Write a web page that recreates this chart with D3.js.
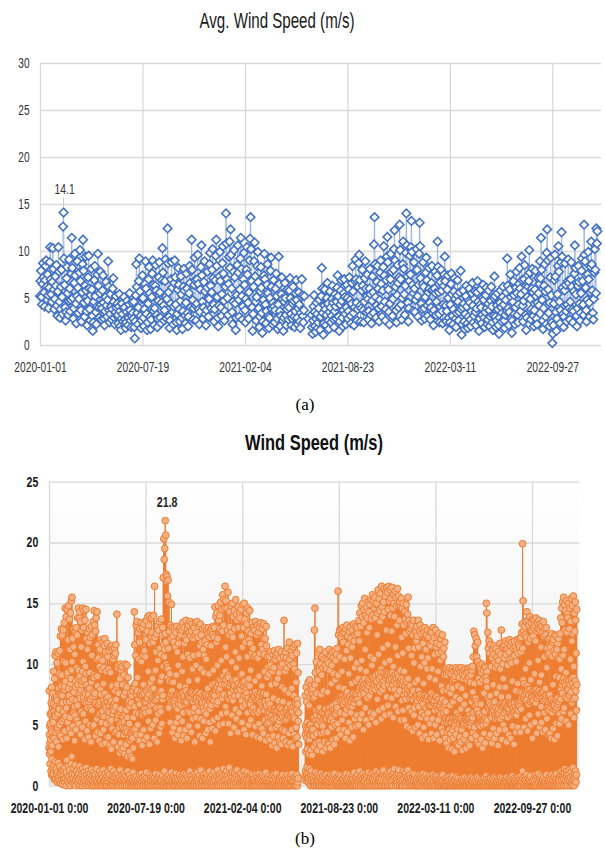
<!DOCTYPE html>
<html>
<head>
<meta charset="utf-8">
<script src="https://cdn.jsdelivr.net/npm/d3@7"></script>
<style>
  body { margin: 0; background: #fff; }
  svg { display: block; }
</style>
</head>
<body>
<svg id="chart" width="605" height="852"></svg>
<script>
// Daily average wind speed (m/s), one value per day from 2020-01-01 (null = no record)
const avg2020 = [
  5.2,6.8,7.9,5.1,4.3,6.5,8.7,7.2,5.6,4.1,6.9,8.4,9.0,6.2,4.8,7.5,5.3,3.9,6.1,8.8,10.4,7.0,5.4,4.6,6.7,10.3,8.1,5.9,3.8,4.9,7.3,
  6.3,8.5,4.2,3.1,5.7,10.4,7.8,4.6,2.9,3.8,6.2,8.0,5.1,3.3,12.6,14.1,9.2,6.4,4.0,2.6,3.5,7.1,8.3,5.5,3.2,4.7,9.1,6.0,3.6,
  4.8,7.6,11.4,8.2,5.0,2.8,3.9,6.6,9.7,7.4,4.4,2.3,5.2,8.9,6.1,3.4,4.9,7.7,10.1,6.8,3.7,2.5,5.6,8.6,11.2,7.9,4.5,3.0,6.3,9.4,5.8,
  3.6,2.1,4.7,7.2,9.5,6.0,3.8,2.6,5.3,8.1,5.9,3.1,1.5,2.4,4.6,6.9,8.4,5.2,3.5,2.2,4.1,7.5,9.7,6.3,4.0,2.9,5.5,7.8,4.3,2.7,
  3.9,5.8,7.4,4.5,2.8,2.1,3.6,5.1,6.7,4.2,3.0,4.8,8.9,6.2,3.7,2.4,3.3,5.4,4.1,2.7,3.8,6.0,7.1,4.6,2.9,2.2,3.5,5.2,4.0,3.1,4.4,
  3.2,2.3,4.1,5.4,3.6,2.0,1.6,2.8,4.4,3.3,2.5,3.9,5.1,4.0,2.7,1.8,2.4,3.5,4.7,3.0,2.1,2.9,4.3,5.5,3.7,2.6,1.9,3.1,4.5,3.4,
  2.8,4.6,1.9,0.7,2.5,5.3,8.6,6.2,3.4,2.2,4.0,6.8,9.2,5.7,3.1,1.8,2.6,4.9,7.4,5.0,2.9,2.0,3.8,6.5,8.9,6.0,3.3,1.6,2.4,4.4,7.0,
  8.3,5.5,3.0,1.7,2.7,5.1,7.6,9.0,6.4,3.6,2.1,3.9,6.3,8.5,5.8,3.2,1.9,2.8,4.7,7.2,8.8,5.6,2.9,2.3,4.5,6.9,10.3,7.7,4.2,2.6,3.7,
  6.8,9.1,5.2,2.8,4.9,12.4,8.7,5.6,3.0,1.8,2.6,4.4,7.0,8.8,6.1,3.5,2.2,4.1,6.6,9.0,7.2,4.3,2.4,1.6,3.3,5.9,8.2,6.4,3.8,2.5,
  4.7,7.3,5.4,2.9,1.7,3.6,6.2,8.1,5.8,3.1,2.3,4.5,7.6,6.0,3.4,2.0,3.0,5.5,8.4,6.6,4.0,7.9,11.2,8.0,4.8,2.7,3.9,6.4,9.3,6.9,4.2,
  2.6,4.4,7.0,9.6,6.5,3.8,2.2,3.5,5.9,8.3,10.6,7.4,4.6,2.8,4.0,6.7,8.9,5.7,3.3,2.1,3.7,6.1,7.8,5.0,3.0,4.9,8.6,9.8,6.3,3.9,
  5.6,8.0,10.2,7.1,4.3,2.5,3.8,6.9,9.5,11.2,8.4,5.1,2.9,2.0,4.2,7.3,9.9,6.8,4.0,3.1,5.4,8.7,10.5,7.6,4.7,2.6,3.6,6.2,14.0,10.8,7.0
];
const avg2021 = [
  5.0,3.2,6.5,9.4,11.0,8.2,12.3,9.6,6.0,3.5,2.2,4.6,7.8,10.1,7.2,4.4,1.6,2.9,5.3,8.5,10.6,7.7,4.8,3.0,5.9,9.2,11.4,8.1,5.2,2.7,4.1,
  7.0,9.8,6.4,3.7,2.4,4.9,8.0,10.4,7.5,4.5,2.8,5.6,9.0,11.3,13.6,10.2,6.8,4.0,1.5,3.3,6.2,8.9,10.9,7.3,4.6,2.6,5.1,8.4,
  9.9,6.7,3.9,1.9,3.0,5.7,8.3,6.1,3.4,1.3,2.5,4.8,7.4,9.7,7.0,4.3,2.3,3.6,6.4,8.6,5.5,3.1,1.8,2.9,5.0,7.9,9.3,6.2,3.8,2.2,4.5,
  6.9,4.1,2.4,3.7,6.0,7.6,5.2,2.8,1.7,4.3,9.4,6.5,3.6,2.0,3.1,5.4,7.2,4.9,2.6,1.5,2.9,4.6,6.6,5.0,3.2,2.1,3.8,5.9,4.2,2.7,
  4.0,5.8,7.1,5.0,3.3,2.1,2.8,4.4,6.2,4.7,3.0,1.9,3.6,5.5,6.9,4.8,2.9,2.2,3.9,5.6,4.3,2.5,1.8,3.4,5.1,7.0,5.3,3.1,2.4,3.7,5.2,
  null,null,null,null,null,null,null,null,null,null,null,null,null,3.2,1.9,1.2,2.6,4.1,5.3,3.5,2.0,1.4,2.8,4.5,3.3,1.8,2.4,3.9,4.8,2.9,
  1.6,3.0,5.2,8.2,6.0,3.4,1.1,2.3,4.2,5.9,3.8,2.1,3.2,5.0,6.6,4.4,2.6,1.7,3.5,5.7,4.0,2.4,3.1,4.9,6.3,4.5,2.7,1.9,3.6,5.4,4.1,
  2.8,4.6,6.1,7.4,5.2,3.0,1.5,2.5,4.3,5.8,6.9,4.7,2.9,2.0,3.7,5.5,7.0,5.1,3.3,2.2,4.0,6.4,5.0,2.8,3.6,5.9,7.2,4.8,3.1,2.3,4.4,
  6.6,8.4,5.7,3.4,2.1,4.0,6.8,9.1,7.0,4.5,2.6,3.8,6.2,8.7,9.6,6.9,4.2,2.5,3.9,5.8,8.0,6.3,3.7,2.4,4.6,7.1,8.9,6.0,3.5,5.2,
  7.5,4.9,2.7,3.6,6.0,8.1,5.4,3.2,2.3,4.7,7.3,5.6,3.4,10.7,13.6,8.6,5.1,2.9,4.2,6.7,8.4,6.0,3.9,2.5,4.8,7.7,9.0,6.5,4.1,3.0,5.8,
  8.3,10.5,7.4,4.6,2.6,3.8,6.9,9.4,11.5,8.8,5.9,3.5,2.2,4.4,7.0,9.7,7.8,5.0,3.1,4.9,8.0,10.2,12.2,9.0,6.2,3.7,2.4,5.3,8.5,6.6,
  4.0,7.2,12.8,10.1,7.0,4.3,2.7,5.0,8.6,11.0,8.1,5.4,3.2,6.3,9.8,14.0,10.6,7.3,4.5,2.5,3.9,6.8,9.5,7.5,10.4,13.2,9.9,6.4,3.6,5.5,8.8
];
const avg2022 = [
  6.0,3.5,4.8,7.9,10.2,8.0,5.2,3.0,6.4,9.7,13.0,10.5,7.1,4.4,2.6,3.8,6.5,8.8,6.2,3.9,2.8,5.1,7.7,9.3,6.9,4.2,3.1,5.6,8.2,6.0,4.5,
  2.7,4.0,6.6,8.4,5.9,3.4,2.1,3.7,6.0,7.8,5.5,3.2,4.6,7.4,11.0,8.3,5.6,3.3,2.4,4.1,6.7,8.0,5.8,3.6,2.3,4.3,6.3,7.5,
  9.4,6.8,4.2,2.5,3.6,5.9,7.4,5.0,2.9,1.6,2.4,4.3,6.5,7.6,5.4,3.1,2.2,3.8,5.7,7.1,4.9,2.8,1.9,3.4,5.3,6.9,4.6,2.6,3.5,5.6,4.0,
  7.9,3.8,1.1,2.2,4.0,5.8,4.4,2.5,1.7,3.3,5.2,6.3,4.1,2.3,1.8,3.0,4.7,6.0,4.5,2.7,2.0,3.6,5.5,6.6,4.2,2.4,3.1,4.9,5.7,3.5,
  2.1,3.9,5.6,6.8,4.6,2.6,1.5,2.8,4.3,5.9,4.0,2.3,3.2,5.0,6.4,4.8,2.9,1.9,3.5,5.3,6.1,3.9,2.2,2.7,4.4,5.8,3.7,2.0,3.0,4.7,6.2,
  4.1,2.4,1.6,3.1,5.0,7.3,5.2,3.0,1.9,2.6,4.2,5.5,3.8,2.1,1.2,2.9,4.5,5.8,4.0,2.5,3.4,5.1,6.2,4.3,2.6,1.8,3.2,4.8,5.6,3.6,
  9.2,6.3,3.9,2.1,3.5,5.9,7.5,5.1,2.8,1.3,2.6,4.6,6.8,5.3,3.3,2.2,4.0,6.1,7.8,5.5,3.2,2.4,4.3,6.5,8.2,6.0,3.6,5.4,9.4,6.9,4.2,
  2.5,4.7,7.0,8.5,5.8,3.2,1.6,2.9,5.1,7.4,6.2,6.8,10.1,7.7,4.9,2.7,3.8,6.0,8.1,5.6,3.1,2.0,3.7,5.9,7.9,5.2,2.8,2.2,4.5,7.1,5.5,
  4.2,6.5,8.9,7.1,11.4,8.0,4.8,2.6,1.7,3.9,6.3,8.6,5.7,3.0,2.2,9.8,12.3,9.0,5.9,3.4,2.0,4.5,7.2,9.3,5.3,2.4,0.2,1.2,2.1,4.4,
  6.9,9.6,7.3,3.5,1.5,2.8,5.4,8.4,10.5,7.8,4.6,2.3,3.7,8.8,12.0,9.4,6.1,3.3,1.9,3.0,5.8,8.7,6.4,3.6,2.5,4.3,6.8,9.1,6.6,3.9,2.7,
  4.6,7.0,8.8,6.2,3.8,2.4,3.6,5.7,7.6,10.6,8.2,5.4,3.1,2.0,3.9,6.3,8.4,6.7,4.4,2.6,3.4,5.5,7.9,9.2,6.8,4.3,3.2,12.8,9.6,8.9,
  6.1,3.7,2.5,4.8,7.5,9.9,7.0,4.5,3.0,5.6,8.3,11.0,8.6,5.8,3.4,2.7,4.9,7.7,10.2,8.0,5.5,12.4,10.8,12.1
];

// Highest hourly wind speed of each day (m/s), from 2020-01-01
const dailyPeak2020 = [
  7.8,4.9,5.9,3.8,6.8,8.1,4.4,7.6,5.2,9.4,6.1,8.8,10.7,5.7,11.0,7.3,10.1,4.6,10.9,8.0,6.4,9.2,11.1,12.3,7.5,12.9,9.1,12.4,6.8,12.8,10.2,
  13.4,8.2,14.6,10.1,13.9,6.9,14.5,9.3,12.0,14.8,7.4,13.7,11.2,14.2,8.8,15.2,15.5,12.1,7.9,11.4,12.9,6.5,10.8,12.7,8.6,13.0,9.7,12.4,13.8,
  14.6,9.5,13.8,14.3,7.2,13.5,11.4,12.8,8.6,14.6,10.2,13.0,14.4,6.9,13.6,9.8,14.5,12.1,8.3,11.2,12.6,7.5,11.8,12.9,9.3,12.2,6.4,13.1,10.7,12.4,8.9,
  13.5,9.1,14.4,13.2,7.6,12.7,13.8,10.4,14.3,8.2,11.6,10.5,6.7,9.8,11.2,7.9,12.0,9.5,5.8,10.3,11.8,8.4,9.7,11.5,12.1,6.6,11.0,9.4,7.2,11.7,
  10.6,7.3,9.6,11.1,6.0,11.4,9.3,5.4,11.5,8.2,11.2,10.4,6.6,10.7,11.3,7.8,10.9,11.6,8.1,14.1,9.7,5.9,9.9,7.6,4.8,8.8,10.0,6.3,9.5,5.2,9.8,
  8.3,5.6,7.4,9.1,4.7,10.0,7.7,6.2,8.1,9.9,4.4,8.9,6.8,7.0,5.1,6.5,7.6,4.3,6.8,7.4,3.9,7.8,5.6,8.2,14.3,11.6,8.4,10.7,13.2,7.5,
  13.5,8.9,12.6,10.4,6.7,11.8,12.9,7.5,13.4,10.2,5.9,13.0,10.7,8.3,13.3,11.1,6.8,10.6,12.0,13.6,7.2,12.7,13.9,9.4,13.2,6.1,14.0,11.7,8.5,12.3,13.8,
  12.6,8.8,11.8,14.0,7.1,16.4,12.2,9.5,11.0,12.5,6.4,13.1,10.3,12.8,7.7,13.5,11.3,8.6,10.8,13.7,9.0,12.4,13.0,17.1,20.3,18.6,19.5,21.8,20.6,17.4,16.8,
  17.2,15.6,16.9,11.3,15.1,12.7,9.2,13.2,12.1,14.9,7.8,13.0,12.3,8.5,11.8,12.9,6.9,11.4,12.6,9.1,13.1,11.0,7.4,9.9,11.7,12.8,8.2,13.0,12.4,6.6,
  12.8,9.4,13.4,10.6,7.3,13.0,11.7,12.2,8.1,13.6,12.0,6.9,12.9,10.8,13.2,8.6,12.6,10.5,13.5,12.3,7.7,12.7,13.3,9.6,12.1,10.7,13.0,6.4,12.4,13.4,9.9,
  12.6,13.5,8.7,12.2,10.8,13.1,7.2,11.5,13.3,9.6,12.4,11.8,6.8,12.9,11.2,9.3,10.7,13.0,11.9,7.5,10.4,12.8,11.6,8.0,12.5,13.0,9.2,12.2,6.3,12.7,
  11.5,12.9,8.3,12.4,13.1,9.5,12.2,13.0,14.7,7.9,13.9,11.8,14.2,9.9,12.1,14.8,13.6,8.7,14.0,12.9,15.1,10.3,14.5,12.7,15.7,9.0,13.2,15.3,14.6,16.4,11.4
];
const dailyPeak2021 = [
  15.2,10.6,14.6,12.8,15.9,8.9,12.4,14.3,13.1,7.6,14.8,12.6,10.2,15.0,12.2,13.9,8.4,14.4,12.9,11.0,15.3,9.7,14.1,13.6,7.8,14.7,13.0,10.5,14.2,13.8,9.1,
  14.5,12.3,9.2,11.4,14.9,13.0,8.1,15.0,13.7,11.8,7.4,14.2,13.3,10.6,14.6,12.7,8.8,12.0,14.4,11.7,9.5,12.5,10.9,13.4,7.3,11.3,13.0,10.6,
  12.8,8.6,13.5,10.7,12.4,7.1,13.2,10.5,12.6,9.0,13.0,10.9,6.8,13.4,11.6,8.2,12.9,11.2,7.5,13.3,10.8,9.4,12.1,6.5,13.1,11.5,8.9,10.6,9.8,7.0,9.2,
  10.6,6.7,9.9,11.0,8.3,5.8,9.4,10.8,7.2,9.7,11.1,6.1,10.4,8.4,10.7,5.5,10.9,8.8,7.0,11.2,9.3,6.4,10.5,9.8,5.9,11.0,8.1,10.0,6.9,10.6,
  13.6,7.9,9.4,11.0,6.3,10.5,9.7,11.3,5.8,10.1,7.6,11.8,10.4,6.2,9.9,11.1,8.0,10.7,5.6,11.4,10.0,7.4,9.6,11.6,6.8,8.5,10.9,7.1,11.7,9.3,6.0,
  null,null,null,null,null,null,null,null,null,null,null,null,null,7.4,4.9,8.1,6.9,5.2,7.7,8.5,4.6,6.6,8.7,7.3,5.0,7.9,8.2,4.4,7.5,8.0,
  7.2,5.6,12.8,14.6,9.3,6.2,10.2,7.6,5.1,8.7,10.9,6.4,9.4,11.2,5.8,10.0,7.5,9.1,10.6,4.9,9.7,7.8,10.4,6.3,9.9,11.0,5.5,9.6,10.3,7.7,6.1,
  10.1,6.0,11.2,9.5,5.4,10.7,8.4,9.9,11.0,6.6,10.5,9.2,5.9,11.1,8.7,10.3,6.8,10.8,11.3,9.0,16.0,12.4,8.1,12.8,10.6,7.3,12.2,12.9,9.4,12.5,13.0,
  11.8,8.0,12.6,10.4,6.9,12.9,11.1,13.2,7.7,12.3,11.6,9.2,12.7,6.5,13.0,10.5,12.1,8.4,11.4,12.8,7.1,13.3,11.9,9.7,12.4,13.1,8.6,12.6,10.1,13.0,
  12.5,8.8,13.6,11.9,14.2,9.6,13.1,14.8,10.3,13.9,15.0,8.1,13.4,14.5,15.4,11.2,14.0,9.4,14.7,12.6,13.8,15.1,8.7,14.3,13.0,14.9,10.6,15.3,13.7,9.9,15.7,
  14.0,15.2,10.4,14.6,15.5,13.8,9.1,14.9,15.0,12.4,14.2,16.1,10.8,15.4,14.4,13.5,15.8,9.6,16.4,14.7,13.9,11.3,15.1,16.2,14.3,10.1,15.6,16.0,12.8,16.3,
  15.9,11.6,14.5,16.4,15.2,10.3,16.1,14.0,15.4,12.7,16.3,14.6,9.8,15.7,15.0,13.9,16.0,11.4,15.5,14.8,13.2,16.2,10.7,15.6,14.9,13.6,15.1,9.5,14.7,15.4,12.2
];
const dailyPeak2022 = [
  14.6,10.9,15.0,13.2,9.4,14.3,13.7,12.5,14.9,8.6,13.4,14.1,15.5,11.3,13.6,12.7,8.2,13.3,12.9,10.7,13.2,7.9,12.4,13.6,10.1,11.3,12.8,8.5,12.6,11.9,13.1,
  12.3,8.7,13.6,11.4,7.5,12.7,13.2,9.8,12.5,10.6,6.9,12.9,11.7,8.4,12.6,10.1,13.0,7.2,11.2,12.4,9.6,12.8,10.5,6.6,12.2,11.6,8.9,12.7,
  11.5,7.6,12.6,9.6,11.9,13.0,6.8,12.2,10.8,8.7,12.8,11.4,7.3,11.7,12.3,9.4,10.9,12.5,6.5,11.6,10.3,12.1,8.2,11.0,12.4,7.8,10.6,11.3,9.1,11.8,6.9,
  9.6,6.1,9.1,7.8,9.5,5.4,9.3,8.1,9.7,6.6,7.6,9.2,5.2,9.6,8.0,6.9,9.4,8.8,4.9,9.0,9.5,7.3,9.7,6.0,9.3,8.2,5.7,9.6,8.9,7.1,
  9.4,6.3,9.7,8.0,5.1,9.2,8.8,9.5,6.7,9.0,9.6,7.4,5.5,9.3,8.7,9.6,6.2,9.4,8.9,5.8,9.7,8.5,9.1,6.9,9.5,9.8,7.7,10.6,12.7,8.4,12.4,
  11.5,7.2,12.1,10.6,6.3,11.8,10.2,8.8,5.9,9.9,8.5,9.6,6.7,9.3,10.0,5.4,8.7,9.5,7.6,9.8,6.1,9.7,8.9,15.0,14.2,9.4,12.6,11.3,7.0,11.9,
  10.9,7.4,11.6,9.8,6.2,10.5,11.2,8.3,10.8,11.5,6.9,10.1,9.7,11.3,7.6,10.6,9.9,5.8,11.0,10.3,8.1,11.7,9.6,10.8,12.8,6.7,11.4,10.0,8.8,11.5,10.5,
  11.6,8.1,11.9,10.8,6.4,11.2,9.9,11.7,7.3,11.0,12.0,10.4,6.8,11.5,10.1,11.8,8.6,10.6,11.3,5.9,11.9,10.7,11.4,7.8,10.2,11.1,12.0,8.4,10.9,11.6,12.1,
  11.4,7.7,12.2,11.0,12.6,13.3,19.9,15.2,12.7,8.4,13.1,12.4,9.6,13.5,12.2,14.3,7.9,13.6,11.8,13.2,10.1,13.9,12.1,8.7,13.4,12.8,6.9,13.7,12.3,13.0,
  13.6,9.2,13.2,11.9,13.8,7.6,12.7,13.4,10.3,12.9,13.6,8.5,12.8,13.3,11.4,9.1,13.1,12.6,7.8,13.5,12.3,10.6,12.9,8.0,12.4,13.0,9.7,11.3,10.8,12.1,7.4,
  10.9,7.5,12.2,11.4,6.8,12.5,10.6,11.8,8.3,12.0,11.1,6.6,12.4,10.8,9.0,12.3,11.2,7.2,11.7,10.5,12.1,8.9,10.4,12.5,13.8,9.6,14.6,13.4,15.1,10.7,
  15.5,11.2,14.9,12.8,14.4,9.3,15.2,12.6,14.1,13.8,8.7,15.0,12.9,14.6,10.4,13.5,15.4,11.9,14.8,12.5,15.6,9.8,14.2,12.7,15.1,13.6,10.9,14.5
];

// Lowest hourly wind speed of each day (m/s), from 2020-01-01
const dailyLow2020 = [
  3.1,2.6,1.8,2.9,1.2,0.9,2.2,1.5,0.8,1.0,1.7,0.5,1.3,2.0,0.6,1.4,0.9,0.3,1.1,1.9,0.7,0.4,1.6,1.0,0.2,0.8,1.3,0.5,0.1,1.2,0.6,
  0.9,0.3,1.5,0.6,0.0,1.1,2.1,0.4,0.8,1.6,0.2,0.7,1.3,0.0,0.5,1.8,2.4,1.0,0.3,0.6,1.4,0.1,0.9,1.7,0.4,0.0,1.2,0.6,0.8,
  0.2,1.0,0.5,1.6,0.0,0.7,1.3,0.3,0.9,0.0,1.4,0.6,0.2,1.1,0.8,0.0,0.4,1.5,0.9,0.1,0.6,1.2,0.3,0.0,0.7,1.0,0.2,0.5,1.3,0.0,0.8,
  0.4,0.0,1.1,0.6,0.2,0.9,0.0,0.5,1.4,0.3,0.0,0.8,0.1,0.6,1.2,0.0,0.4,0.9,0.2,0.0,0.7,1.3,0.3,0.0,0.5,1.0,0.1,0.6,0.0,0.8,
  0.3,1.1,0.0,0.6,0.9,0.2,0.0,1.4,0.5,0.1,0.8,0.0,0.4,1.2,0.7,0.0,0.3,0.9,0.1,0.6,0.0,1.0,0.4,0.2,0.0,0.7,1.3,0.3,0.0,0.5,0.9,
  0.2,0.0,0.6,1.0,0.3,0.0,0.8,0.4,0.1,0.0,0.7,1.2,0.2,0.0,0.5,0.9,0.3,0.0,0.6,0.1,0.0,0.4,1.1,0.2,0.0,0.7,0.3,0.0,0.5,0.8,
  0.0,0.4,0.1,0.0,0.6,0.9,0.2,0.0,0.5,1.0,0.3,0.0,0.7,0.1,0.0,0.4,0.8,0.2,0.0,0.6,1.1,0.0,0.3,0.5,0.0,0.2,0.9,0.0,0.4,0.7,0.1,
  0.0,0.5,0.8,0.2,0.0,0.6,0.3,0.0,1.0,0.4,0.1,0.0,0.7,0.5,0.0,0.3,0.9,0.2,0.0,0.6,0.4,0.0,0.8,0.1,0.0,0.5,1.2,0.3,0.0,0.7,0.2,
  0.0,0.6,0.3,0.0,0.9,0.4,0.1,0.0,0.7,1.1,0.2,0.0,0.5,0.8,0.0,0.3,0.6,0.0,0.4,1.0,0.2,0.0,0.7,0.3,0.0,0.5,0.9,0.1,0.0,0.6,
  0.3,0.0,0.8,0.5,0.0,0.2,1.0,0.4,0.0,0.6,0.9,0.1,0.0,0.7,0.3,0.0,0.5,1.2,0.2,0.0,0.8,0.4,0.0,0.6,0.1,0.0,0.9,0.3,0.0,0.7,0.5,
  0.0,0.4,1.1,0.6,0.0,0.3,0.8,0.0,0.5,1.3,0.2,0.0,0.7,0.4,0.0,0.9,0.6,0.1,0.0,0.5,1.0,0.3,0.0,0.8,0.2,0.0,0.6,1.2,0.4,0.0,
  0.7,0.2,0.0,0.9,0.5,0.0,0.3,1.1,0.6,0.0,0.4,0.8,0.1,0.0,1.3,0.7,0.0,0.5,0.9,0.2,0.0,0.6,1.0,0.3,0.0,0.8,1.4,0.4,0.0,0.6,0.9
];
const dailyLow2021 = [
  0.5,0.0,1.2,0.8,0.3,0.0,0.6,1.5,0.2,0.0,0.9,0.4,0.0,0.7,1.1,0.3,0.0,0.5,1.0,0.6,0.0,0.2,0.8,1.3,0.4,0.0,0.6,0.9,0.1,0.0,0.7,
  1.0,0.3,0.0,0.5,0.8,0.0,0.4,1.2,0.6,0.0,0.2,0.9,0.5,0.0,1.1,0.7,0.0,0.3,0.6,0.0,0.8,1.0,0.2,0.0,0.5,0.9,0.0,0.4,
  0.6,0.0,0.3,0.9,0.1,0.0,0.7,0.4,0.0,0.5,1.0,0.2,0.0,0.6,0.8,0.0,0.3,0.9,0.0,0.4,0.7,0.1,0.0,0.5,1.1,0.3,0.0,0.6,0.2,0.0,0.8,
  0.3,0.0,0.6,0.1,0.0,0.8,0.4,0.0,0.5,0.9,0.0,0.2,0.7,0.0,0.4,1.0,0.1,0.0,0.6,0.3,0.0,0.5,0.8,0.0,0.2,0.7,0.0,0.4,0.9,0.1,
  0.0,0.5,0.2,0.0,0.7,0.4,0.0,0.9,0.3,0.0,0.6,0.1,0.0,0.8,0.5,0.0,0.3,1.0,0.2,0.0,0.6,0.4,0.0,0.7,0.1,0.0,0.5,0.9,0.0,0.3,0.6,
  null,null,null,null,null,null,null,null,null,null,null,null,null,0.8,1.2,0.4,0.9,1.5,0.6,1.1,0.3,0.7,1.4,0.5,0.0,0.9,1.2,0.4,0.8,0.2,
  0.0,0.6,0.3,0.0,0.8,1.1,0.2,0.0,0.5,0.9,0.4,0.0,0.7,0.2,0.0,0.6,1.0,0.3,0.0,0.5,0.8,0.1,0.0,0.4,0.7,0.0,0.3,0.9,0.2,0.0,0.6,
  0.4,0.0,0.7,0.2,0.0,0.9,0.5,0.0,0.3,0.8,0.1,0.0,0.6,1.0,0.3,0.0,0.5,0.2,0.0,0.7,0.4,0.0,0.9,0.6,0.0,0.2,0.8,0.0,0.5,0.3,0.0,
  0.6,0.2,0.0,0.8,0.4,0.0,1.0,0.5,0.0,0.3,0.7,0.1,0.0,0.9,0.4,0.0,0.6,0.2,0.0,0.8,0.5,0.0,0.3,1.1,0.2,0.0,0.7,0.4,0.0,0.6,
  0.9,0.3,0.0,0.6,1.2,0.4,0.0,0.8,0.2,0.0,0.5,1.0,0.3,0.0,0.7,0.4,0.0,0.9,0.6,0.0,0.2,0.8,1.1,0.0,0.5,0.3,0.0,0.7,1.0,0.2,0.0,
  0.6,1.0,0.3,0.0,0.8,0.5,0.0,1.2,0.7,0.2,0.0,0.9,0.4,0.0,0.6,1.1,0.3,0.0,0.7,0.5,0.0,1.0,1.3,0.4,0.0,0.8,0.2,0.0,0.6,0.9,
  0.3,0.0,1.0,0.7,0.2,0.0,0.8,1.2,0.5,0.0,0.4,0.9,0.0,0.6,1.1,1.4,0.7,0.2,0.0,0.5,0.9,0.3,0.0,1.0,1.3,0.6,0.0,0.4,0.8,0.2,0.0
];
const dailyLow2022 = [
  0.5,0.0,0.9,1.2,0.6,0.2,0.0,0.8,1.1,0.4,0.0,0.7,1.3,0.5,0.0,0.3,0.9,0.6,0.0,0.4,0.2,0.0,0.8,1.0,0.3,0.0,0.6,0.9,0.1,0.0,0.5,
  0.0,0.7,0.3,0.0,0.9,0.5,0.0,0.2,0.8,0.4,0.0,0.6,1.0,0.3,0.0,0.7,0.2,0.0,0.5,0.9,0.1,0.0,0.6,0.3,0.0,0.8,0.4,0.0,
  0.6,0.2,0.0,0.5,0.9,0.0,0.3,0.7,0.0,0.1,0.6,0.0,0.4,0.8,0.2,0.0,0.5,0.0,0.3,0.7,0.0,0.2,0.6,0.0,0.4,0.9,0.0,0.1,0.5,0.0,0.3,
  0.0,0.6,0.2,0.0,0.4,0.0,0.7,0.3,0.0,0.5,0.1,0.0,0.6,0.0,0.3,0.8,0.0,0.2,0.5,0.0,0.4,0.0,0.7,0.1,0.0,0.3,0.6,0.0,0.2,0.0,
  0.4,0.0,0.2,0.6,0.0,0.3,0.0,0.5,0.1,0.0,0.7,0.2,0.0,0.4,0.0,0.6,0.3,0.0,0.1,0.5,0.0,0.2,0.0,0.7,0.4,0.0,0.3,0.0,0.6,0.1,0.0,
  0.3,0.0,0.5,0.0,0.2,0.7,0.0,0.4,0.1,0.0,0.6,0.0,0.3,0.0,0.5,0.2,0.0,0.4,0.0,0.6,0.1,0.0,0.3,0.8,0.5,0.0,0.2,0.0,0.4,0.6,
  0.0,0.3,0.6,0.0,0.2,0.0,0.5,0.1,0.0,0.4,0.7,0.0,0.2,0.0,0.6,0.3,0.0,0.1,0.5,0.0,0.4,0.0,0.2,0.7,0.0,0.3,0.0,0.6,0.1,0.0,0.4,
  0.2,0.0,0.5,0.0,0.3,0.7,0.0,0.1,0.4,0.0,0.6,0.2,0.0,0.5,0.0,0.3,0.8,0.0,0.2,0.0,0.6,0.4,0.0,0.1,0.5,0.0,0.3,0.0,0.7,0.2,0.0,
  0.5,0.0,0.3,0.8,0.0,0.4,1.2,0.6,0.0,0.2,0.7,0.0,0.5,0.3,0.0,0.9,0.4,0.0,0.6,0.1,0.0,0.5,0.8,0.0,0.3,0.0,0.0,0.2,0.4,0.0,
  0.6,0.0,0.4,0.9,0.0,0.2,0.7,0.0,0.5,1.0,0.3,0.0,0.6,0.0,0.8,0.4,0.0,0.2,0.5,0.0,0.7,0.3,0.0,0.4,0.0,0.6,0.9,0.0,0.3,0.0,0.5,
  0.0,0.7,0.3,0.0,0.5,0.9,0.0,0.2,0.6,0.0,0.4,0.8,0.0,0.3,0.0,0.6,1.0,0.2,0.0,0.5,0.0,0.4,0.7,0.0,0.9,1.2,0.5,0.0,0.8,1.1,
  0.6,0.0,1.0,1.4,0.5,0.0,0.8,1.2,0.3,0.0,0.9,0.6,1.3,0.4,0.0,0.7,1.1,0.2,0.0,0.8,1.5,0.5,0.0,1.0,0.6,1.2,0.3,0.9
];

// Late-evening hourly wind speed of each day (m/s), from 2020-01-01
const dailyEvening2020 = [
  4.2,3.5,5.1,2.8,4.6,6.0,3.3,5.4,4.0,6.7,3.9,5.8,7.2,4.4,6.5,3.6,7.0,4.8,5.9,3.2,6.3,5.0,7.6,4.1,6.8,8.2,5.3,7.4,3.8,6.1,5.5,
  7.9,4.5,8.6,5.7,6.4,3.9,9.1,5.2,7.3,8.0,4.7,6.9,5.6,8.4,4.3,9.5,10.2,7.1,4.9,6.0,7.7,3.7,5.8,8.1,4.6,7.0,5.4,6.6,8.3,
  8.8,5.1,7.5,9.0,4.2,7.9,6.1,8.3,4.8,9.4,5.9,7.2,8.7,3.8,7.6,5.3,9.2,6.8,4.5,6.4,7.8,4.0,6.9,8.0,5.0,7.1,3.6,8.5,6.2,7.3,4.9,
  7.7,5.0,8.9,7.4,4.1,6.8,8.2,5.5,9.0,4.4,6.6,5.8,3.7,5.9,6.9,4.3,7.5,5.2,3.4,6.1,7.0,4.6,5.7,6.8,7.6,3.5,6.4,5.1,4.0,6.9,
  6.1,4.0,5.6,6.6,3.3,6.9,5.2,3.0,7.0,4.7,6.4,5.9,3.6,6.2,6.8,4.4,6.5,7.1,4.5,8.3,5.5,3.2,5.8,4.2,2.7,5.1,6.0,3.5,5.4,2.9,5.7,
  4.8,3.1,4.2,5.3,2.6,5.9,4.4,3.4,4.7,5.6,2.4,5.1,3.8,4.0,2.8,3.7,4.3,2.4,3.9,4.2,2.2,4.5,3.1,4.6,8.1,6.5,4.7,6.0,7.6,4.2,
  7.8,5.0,7.1,5.9,3.7,6.7,7.4,4.2,7.7,5.8,3.3,7.5,6.1,4.6,7.6,6.3,3.8,6.0,6.9,7.8,4.0,7.2,8.0,5.3,7.5,3.4,8.1,6.6,4.7,7.0,7.9,
  7.2,5.0,6.7,8.0,3.9,9.4,7.0,5.4,6.3,7.1,3.6,7.5,5.9,7.3,4.3,7.7,6.4,4.8,6.1,7.8,5.1,7.1,7.4,9.8,11.6,10.6,11.2,12.5,11.8,10.0,9.6,
  9.8,8.9,9.6,6.4,8.6,7.2,5.2,7.5,6.9,8.5,4.4,7.4,7.0,4.8,6.7,7.3,3.9,6.5,7.2,5.2,7.5,6.3,4.2,5.6,6.7,7.3,4.6,7.4,7.1,3.7,
  7.3,5.3,7.6,6.0,4.1,7.4,6.7,6.9,4.6,7.8,6.8,3.9,7.4,6.1,7.5,4.9,7.2,6.0,7.7,7.0,4.4,7.2,7.6,5.5,6.9,6.1,7.4,3.6,7.1,7.6,5.6,
  7.2,7.7,4.9,6.9,6.1,7.5,4.1,6.6,7.6,5.5,7.1,6.7,3.9,7.4,6.4,5.3,6.1,7.4,6.8,4.3,5.9,7.3,6.6,4.6,7.1,7.4,5.2,7.0,3.6,7.2,
  6.6,7.4,4.7,7.1,7.5,5.4,7.0,7.4,8.4,4.5,7.9,6.7,8.1,5.6,6.9,8.4,7.8,5.0,8.0,7.4,8.6,5.9,8.3,7.2,9.0,5.1,7.5,8.7,8.3,9.4,6.5
];
const dailyEvening2021 = [
  8.7,6.0,8.3,7.3,9.1,5.1,7.1,8.2,7.5,4.3,8.4,7.2,5.8,8.6,7.0,7.9,4.8,8.2,7.4,6.3,8.7,5.5,8.0,7.8,4.4,8.4,7.4,6.0,8.1,7.9,5.2,
  8.3,7.0,5.2,6.5,8.5,7.4,4.6,8.6,7.8,6.7,4.2,8.1,7.6,6.0,8.3,7.2,5.0,6.8,8.2,6.7,5.4,7.1,6.2,7.6,4.2,6.4,7.4,6.0,
  7.3,4.9,7.7,6.1,7.1,4.0,7.5,6.0,7.2,5.1,7.4,6.2,3.9,7.6,6.6,4.7,7.4,6.4,4.3,7.6,6.2,5.4,6.9,3.7,7.5,6.6,5.1,6.0,5.6,4.0,5.2,
  6.0,3.8,5.6,6.3,4.7,3.3,5.4,6.2,4.1,5.5,6.3,3.5,5.9,4.8,6.1,3.1,6.2,5.0,4.0,6.4,5.3,3.6,6.0,5.6,3.4,6.3,4.6,5.7,3.9,6.0,
  7.8,4.5,5.4,6.3,3.6,6.0,5.5,6.4,3.3,5.8,4.3,6.7,5.9,3.5,5.6,6.3,4.6,6.1,3.2,6.5,5.7,4.2,5.5,6.6,3.9,4.8,6.2,4.0,6.7,5.3,3.4,
  null,null,null,null,null,null,null,null,null,null,null,null,null,4.2,2.8,4.6,3.9,3.0,4.4,4.8,2.6,3.8,5.0,4.2,2.9,4.5,4.7,2.5,4.3,4.6,
  4.1,3.2,7.3,8.3,5.3,3.5,5.8,4.3,2.9,5.0,6.2,3.6,5.4,6.4,3.3,5.7,4.3,5.2,6.0,2.8,5.5,4.4,5.9,3.6,5.6,6.3,3.1,5.5,5.9,4.4,3.5,
  5.8,3.4,6.4,5.4,3.1,6.1,4.8,5.6,6.3,3.8,6.0,5.2,3.4,6.3,5.0,5.9,3.9,6.2,6.4,5.1,9.1,7.1,4.6,7.3,6.0,4.2,7.0,7.4,5.4,7.1,7.4,
  6.7,4.6,7.2,5.9,3.9,7.4,6.3,7.5,4.4,7.0,6.6,5.2,7.2,3.7,7.4,6.0,6.9,4.8,6.5,7.3,4.0,7.6,6.8,5.5,7.1,7.5,4.9,7.2,5.8,7.4,
  7.1,5.0,7.8,6.8,8.1,5.5,7.5,8.4,5.9,7.9,8.6,4.6,7.6,8.3,8.8,6.4,8.0,5.4,8.4,7.2,7.9,8.6,5.0,8.2,7.4,8.5,6.0,8.7,7.8,5.6,8.9,
  8.0,8.7,5.9,8.3,8.8,7.9,5.2,8.5,8.6,7.1,8.1,9.2,6.2,8.8,8.2,7.7,9.0,5.5,9.3,8.4,7.9,6.4,8.6,9.2,8.2,5.8,8.9,9.1,7.3,9.3,
  9.1,6.6,8.3,9.3,8.7,5.9,9.2,8.0,8.8,7.2,9.3,8.3,5.6,9.0,8.6,7.9,9.1,6.5,8.8,8.4,7.5,9.2,6.1,8.9,8.5,7.8,8.6,5.4,8.4,8.8,7.0
];
const dailyEvening2022 = [
  8.3,6.2,8.6,7.5,5.4,8.2,7.8,7.1,8.5,4.9,7.6,8.0,8.8,6.4,7.8,7.2,4.7,7.6,7.4,6.1,7.5,4.5,7.1,7.8,5.8,6.4,7.3,4.8,7.2,6.8,7.5,
  7.0,5.0,7.8,6.5,4.3,7.2,7.5,5.6,7.1,6.0,3.9,7.4,6.7,4.8,7.2,5.8,7.4,4.1,6.4,7.1,5.5,7.3,6.0,3.8,7.0,6.6,5.1,7.2,
  6.6,4.3,7.2,5.5,6.8,7.4,3.9,7.0,6.2,5.0,7.3,6.5,4.2,6.7,7.0,5.4,6.2,7.1,3.7,6.6,5.9,6.9,4.7,6.3,7.1,4.4,6.0,6.4,5.2,6.7,3.9,
  5.5,3.5,5.2,4.4,5.4,3.1,5.3,4.6,5.5,3.8,4.3,5.2,3.0,5.5,4.6,3.9,5.4,5.0,2.8,5.1,5.4,4.2,5.5,3.4,5.3,4.7,3.3,5.5,5.1,4.0,
  5.4,3.6,5.5,4.6,2.9,5.2,5.0,5.4,3.8,5.1,5.5,4.2,3.1,5.3,5.0,5.5,3.5,5.4,5.1,3.3,5.5,4.9,5.2,3.9,5.4,5.6,4.4,6.0,7.2,4.8,7.1,
  6.6,4.1,6.9,6.0,3.6,6.7,5.8,5.0,3.4,5.6,4.9,5.5,3.8,5.3,5.7,3.1,5.0,5.4,4.3,5.6,3.5,5.5,5.1,8.6,8.1,5.4,7.2,6.4,4.0,6.8,
  6.2,4.2,6.6,5.6,3.5,6.0,6.4,4.7,6.2,6.6,3.9,5.8,5.5,6.4,4.3,6.0,5.6,3.3,6.3,5.9,4.6,6.7,5.5,6.2,7.3,3.8,6.5,5.7,5.0,6.6,6.0,
  6.6,4.6,6.8,6.2,3.6,6.4,5.6,6.7,4.2,6.3,6.8,5.9,3.9,6.6,5.8,6.7,4.9,6.0,6.4,3.4,6.8,6.1,6.5,4.4,5.8,6.3,6.8,4.8,6.2,6.6,6.9,
  6.5,4.4,7.0,6.3,7.2,7.6,11.3,8.7,7.2,4.8,7.5,7.1,5.5,7.7,7.0,8.2,4.5,7.8,6.7,7.5,5.8,7.9,6.9,5.0,7.6,7.3,3.9,7.8,7.0,7.4,
  7.8,5.2,7.5,6.8,7.9,4.3,7.2,7.6,5.9,7.4,7.8,4.8,7.3,7.6,6.5,5.2,7.5,7.2,4.4,7.7,7.0,6.0,7.4,4.6,7.1,7.4,5.5,6.4,6.2,6.9,4.2,
  6.2,4.3,7.0,6.5,3.9,7.1,6.0,6.7,4.7,6.8,6.3,3.8,7.1,6.2,5.1,7.0,6.4,4.1,6.7,6.0,6.9,5.1,5.9,7.1,7.9,5.5,8.3,7.6,8.6,6.1,
  8.8,6.4,8.5,7.3,8.2,5.3,8.7,7.2,8.0,7.9,5.0,8.6,7.4,8.3,5.9,7.7,8.8,6.8,8.4,7.1,8.9,5.6,8.1,7.2,8.6,7.8,6.2,8.3
];

// Axis ticks
const dateTicks = ["2020-01-01", "2020-07-19", "2021-02-04", "2021-08-23", "2022-03-11", "2022-09-27"];
const avgTicks = [0, 5, 10, 15, 20, 25, 30];
const hourlyTicks = [0, 5, 10, 15, 20, 25];

const parseDay = d3.timeParse("%Y-%m-%d");
const day0 = parseDay("2020-01-01");
const tickDates = dateTicks.map(parseDay);

const avgSeries = d3.merge([avg2020, avg2021, avg2022])
  .map((v, i) => ({ t: d3.timeDay.offset(day0, i), v }));

// hourly readings in time order: early-morning low, afternoon peak, late-evening value
const peaks = d3.merge([dailyPeak2020, dailyPeak2021, dailyPeak2022]);
const lows = d3.merge([dailyLow2020, dailyLow2021, dailyLow2022]);
const evenings = d3.merge([dailyEvening2020, dailyEvening2021, dailyEvening2022]);
const hourly = [];
peaks.forEach((p, i) => {
  const d = d3.timeDay.offset(day0, i);
  hourly.push({ t: d3.timeHour.offset(d, 5), v: lows[i] });
  hourly.push({ t: d3.timeHour.offset(d, 14), v: p });
  hourly.push({ t: d3.timeHour.offset(d, 21), v: evenings[i] });
});

const svg = d3.select("#chart");
const SANS = "'Liberation Sans', Arial, sans-serif";

// squeeze text horizontally to a condensed look
function squeeze(sel, k) {
  sel.each(function () {
    const w = this.getComputedTextLength();
    d3.select(this).attr("textLength", w * k).attr("lengthAdjust", "spacingAndGlyphs");
  });
}

function styleGrid(g, fill, weight) {
  g.select(".domain").remove();
  g.selectAll(".tick line").attr("stroke", "#d9d9d9").attr("stroke-width", 1.3);
  g.selectAll(".tick text").attr("font-family", SANS).attr("font-size", 14)
    .attr("font-weight", weight).attr("fill", fill);
}

/* ---------- (a) daily average ---------- */
{
  const L = 40, R = 601, T = 63, B = 345;
  const x = d3.scaleTime().domain([day0, parseDay("2022-12-31")]).range([L, R]);
  const y = d3.scaleLinear().domain([0, 30]).range([B, T]);
  const g = svg.append("g");

  g.append("g").attr("transform", `translate(${L},0)`)
    .call(d3.axisLeft(y).tickValues(avgTicks).tickSize(-(R - L)).tickPadding(10.5))
    .call(s => styleGrid(s, "#333", "normal"))
    .call(s => squeeze(s.selectAll(".tick text"), 0.72));

  g.append("g").attr("transform", `translate(0,${B})`)
    .call(d3.axisBottom(x).tickValues(tickDates).tickFormat(d3.timeFormat("%Y-%m-%d")).tickSize(-(B - T)))
    .call(s => styleGrid(s, "#333", "normal"))
    .call(s => s.selectAll(".tick text").attr("y", 27).attr("dy", 0))
    .call(s => squeeze(s.selectAll(".tick text"), 0.73));

  g.append("text").attr("x", 277).attr("y", 28).attr("text-anchor", "middle")
    .attr("font-family", SANS).attr("font-size", 22).attr("fill", "#1a1a1a")
    .attr("textLength", 155).attr("lengthAdjust", "spacingAndGlyphs")
    .text("Avg. Wind Speed (m/s)");

  g.append("path").datum(avgSeries)
    .attr("fill", "none").attr("stroke", "#8faadc").attr("stroke-width", 0.8)
    .attr("d", d3.line().defined(d => d.v != null).x(d => x(d.t)).y(d => y(d.v)));

  const diamond = "M0,-4.3L4.3,0L0,4.3L-4.3,0Z";
  g.append("g").selectAll("path")
    .data(avgSeries.filter(d => d.v != null))
    .join("path")
    .attr("transform", d => `translate(${x(d.t)},${y(d.v)})`)
    .attr("d", diamond)
    .attr("fill", "#fff").attr("stroke", "#4472c4").attr("stroke-width", 1.6);

  const top = d3.greatest(avgSeries, d => d.v);
  const px = x(top.t), py = y(top.v);
  g.append("line").attr("x1", px).attr("x2", px).attr("y1", py - 15).attr("y2", py - 6)
    .attr("stroke", "#bfbfbf").attr("stroke-width", 0.8);
  g.append("text").attr("x", px + 1).attr("y", py - 18.5).attr("text-anchor", "middle")
    .attr("font-family", SANS).attr("font-size", 14).attr("fill", "#333")
    .text(top.v.toFixed(1))
    .call(s => squeeze(s, 0.74));

  svg.append("text").attr("x", 305).attr("y", 410).attr("text-anchor", "middle")
    .attr("font-family", "'Liberation Serif', 'Times New Roman', serif").attr("font-size", 17)
    .text("(a)");
}

/* ---------- (b) hourly wind speed ---------- */
{
  const L = 49, R = 579.3, T = 481.7, B = 785.7;
  const x = d3.scaleTime().domain([day0, parseDay("2023-01-03")]).range([L, R]);
  const y = d3.scaleLinear().domain([0, 25]).range([B, T]);
  const g = svg.append("g");

  const grad = svg.append("defs").append("linearGradient")
    .attr("id", "plotShade").attr("x1", 0).attr("y1", 0).attr("x2", 0).attr("y2", 1);
  grad.append("stop").attr("offset", "0%").attr("stop-color", "#ffffff");
  grad.append("stop").attr("offset", "100%").attr("stop-color", "#ececec");
  g.append("rect").attr("x", L).attr("y", T).attr("width", R - L).attr("height", B - T)
    .attr("fill", "url(#plotShade)");

  g.append("g").attr("transform", `translate(${L},0)`)
    .call(d3.axisLeft(y).tickValues(hourlyTicks).tickSize(-(R - L)).tickPadding(10.7))
    .call(s => styleGrid(s, "#1a1a1a", "bold"))
    .call(s => squeeze(s.selectAll(".tick text"), 0.75));

  g.append("g").attr("transform", `translate(0,${B})`)
    .call(d3.axisBottom(x).tickValues(tickDates).tickFormat(d3.timeFormat("%Y-%m-%d %-H:%M")).tickSize(-(B - T)))
    .call(s => styleGrid(s, "#1a1a1a", "bold"))
    .call(s => s.selectAll(".tick text").attr("y", 27).attr("dy", 0))
    .call(s => squeeze(s.selectAll(".tick text"), 0.75));

  g.append("text").attr("x", 314).attr("y", 450).attr("text-anchor", "middle")
    .attr("font-family", SANS).attr("font-size", 22).attr("font-weight", "bold").attr("fill", "#111")
    .attr("textLength", 138).attr("lengthAdjust", "spacingAndGlyphs")
    .text("Wind Speed (m/s)");

  g.append("path").datum(hourly)
    .attr("fill", "none").attr("stroke", "#ed7d31").attr("stroke-width", 1)
    .attr("d", d3.line().defined(d => d.v != null).x(d => x(d.t)).y(d => y(d.v)));

  g.append("g").selectAll("circle")
    .data(hourly.filter(d => d.v != null))
    .join("circle")
    .attr("cx", d => x(d.t)).attr("cy", d => y(d.v)).attr("r", 3.4)
    .attr("fill", "#f4b183").attr("stroke", "#ed7d31").attr("stroke-width", 1);

  const top = d3.greatest(hourly, d => d.v);
  g.append("text").attr("x", x(top.t) + 2).attr("y", y(top.v) - 13.5).attr("text-anchor", "middle")
    .attr("font-family", SANS).attr("font-size", 14).attr("font-weight", "bold").attr("fill", "#262626")
    .text(top.v.toFixed(1))
    .call(s => squeeze(s, 0.76));

  svg.append("text").attr("x", 305).attr("y", 844).attr("text-anchor", "middle")
    .attr("font-family", "'Liberation Serif', 'Times New Roman', serif").attr("font-size", 17)
    .text("(b)");
}
</script>
</body>
</html>
